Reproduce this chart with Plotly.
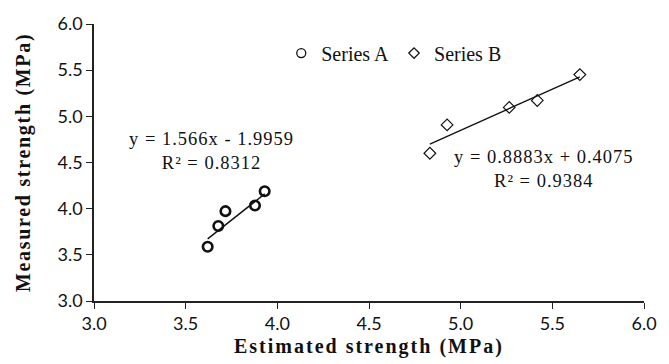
import plotly.graph_objects as go

# Data
series_a_x = [3.620, 3.678, 3.717, 3.878, 3.931]
series_a_y = [3.587, 3.812, 3.973, 4.034, 4.188]
series_b_x = [4.832, 4.926, 5.265, 5.418, 5.650]
series_b_y = [4.600, 4.907, 5.097, 5.172, 5.452]

fit_a = (1.566, -1.9959)   # slope, intercept
fit_b = (0.8883, 0.4075)
r2_a = 0.8312
r2_b = 0.9384

x_ticks = [3.0, 3.5, 4.0, 4.5, 5.0, 5.5, 6.0]
y_ticks = [3.0, 3.5, 4.0, 4.5, 5.0, 5.5, 6.0]

SERIF = "Liberation Serif, Times New Roman, serif"
SANS = "Lato, Open Sans, sans-serif"
INK = "#111111"


def spaced(text, px):
    return f"<span style='letter-spacing:{px}px'>{text}</span>"


fig = go.Figure()


def trend(xs, fit):
    x0, x1 = min(xs), max(xs)
    return [x0, x1], [fit[0] * x0 + fit[1], fit[0] * x1 + fit[1]]


tx, ty = trend(series_a_x, fit_a)
fig.add_trace(go.Scatter(x=tx, y=ty, mode="lines", line=dict(color=INK, width=1.4),
                         showlegend=False, hoverinfo="skip"))
tx, ty = trend(series_b_x, fit_b)
fig.add_trace(go.Scatter(x=tx, y=ty, mode="lines", line=dict(color=INK, width=1.4),
                         showlegend=False, hoverinfo="skip"))

fig.add_trace(go.Scatter(x=series_a_x, y=series_a_y, mode="markers", showlegend=False,
                         marker=dict(symbol="circle-open", size=9.5, color=INK,
                                     line=dict(width=2.6, color=INK))))
fig.add_trace(go.Scatter(x=series_b_x, y=series_b_y, mode="markers", showlegend=False,
                         marker=dict(symbol="diamond-open", size=9, color=INK,
                                     line=dict(width=1.2, color=INK))))

# legend-only entries (thin symbols like the reference)
fig.add_trace(go.Scatter(x=[None], y=[None], mode="markers", name="Series A",
                         marker=dict(symbol="circle-open", size=9, color=INK,
                                     line=dict(width=1.3, color=INK))))
fig.add_trace(go.Scatter(x=[None], y=[None], mode="markers", name="Series B",
                         marker=dict(symbol="diamond-open", size=8, color=INK,
                                     line=dict(width=1.3, color=INK))))

fig.add_annotation(x=3.64, y=4.62, xref="x", yref="y", showarrow=False,
                   text=spaced(f"y = {fit_a[0]}x - {abs(fit_a[1])}", 1.0) + "<br>"
                        + spaced(f"R² = {r2_a}", 1.0),
                   font=dict(family=SERIF, size=18.5, color=INK), align="center")
fig.add_annotation(x=5.452, y=4.43, xref="x", yref="y", showarrow=False,
                   text=spaced(f"y = {fit_b[0]}x + {fit_b[1]}", 1.0) + "<br>"
                        + spaced(f"R² = {r2_b}", 1.0),
                   font=dict(family=SERIF, size=18.5, color=INK), align="center")

# axis titles
fig.add_annotation(x=0.5, y=-0.165, xref="paper", yref="paper", showarrow=False,
                   text="<b>" + spaced("Estimated strength (MPa)", 2.0) + "</b>",
                   yanchor="middle",
                   font=dict(family=SERIF, size=20, color=INK))
fig.add_annotation(x=-0.128, y=0.5, xref="paper", yref="paper", showarrow=False,
                   text="<b>" + spaced("Measured strength (MPa)", 1.7) + "</b>",
                   textangle=-90, xanchor="center",
                   font=dict(family=SERIF, size=20, color=INK))

axis_common = dict(showgrid=False, zeroline=False, showline=True, linecolor="#222222",
                   linewidth=1.6, ticks="outside", ticklen=6, tickwidth=1.4,
                   tickcolor="#222222", ticklabeloverflow="allow",
                   tickfont=dict(family=SANS, size=18, color=INK))

fig.update_xaxes(range=[3.0, 6.0], tickvals=x_ticks,
                 ticktext=[f"{v:.1f}" for v in x_ticks], **axis_common)
fig.update_yaxes(range=[3.0, 6.0], tickvals=y_ticks,
                 ticktext=[f"{v:.1f}" for v in y_ticks], **axis_common)

fig.update_layout(
    width=669, height=364,
    margin=dict(l=94, r=13, t=21, b=63),
    paper_bgcolor="white", plot_bgcolor="white",
    legend=dict(orientation="h", x=0.545, y=0.895, xanchor="center", yanchor="middle",
                font=dict(family=SERIF, size=20, color=INK), itemwidth=30,
                bgcolor="rgba(0,0,0,0)", tracegroupgap=0),
)

fig.write_html("out.html")
